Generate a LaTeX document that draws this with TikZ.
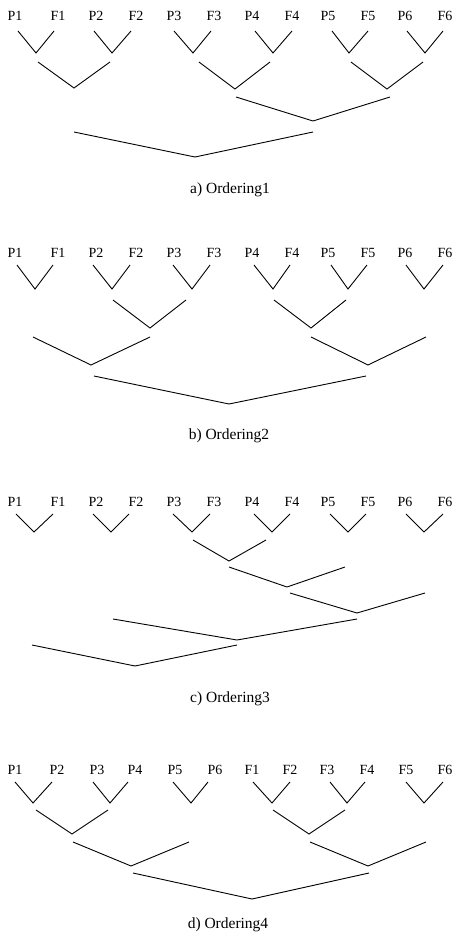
\documentclass[tikz,border=0pt]{standalone}
\usepackage{fontspec}
\setmainfont{Liberation Serif}
\tikzset{
  link/.style={line width=0.9pt, line join=miter},
  lab/.style={font=\fontsize{14}{14}\selectfont, inner sep=0pt},
  capt/.style={font=\fontsize{15.5}{16}\selectfont, inner sep=0pt}
}
\begin{document}
\begin{tikzpicture}[x=1pt,y=-1pt]
\useasboundingbox (0,0) rectangle (453,943);
% ---------- a) Ordering1 ----------
\foreach \n/\x in {P1/15,F1/58,P2/96,F2/136,P3/174,F3/214,P4/252,F4/292,P5/328,F5/368,P6/405,F6/445}
  \node[lab] (a\n) at (\x,16) {\n};
\foreach \l/\v/\r in {18/36/54,94/112/131,174/193/211,255/273/292,332/349/368,407/425/443}
  \draw[link] (\l,31) -- (\v,53) -- (\r,31);
\draw[link] (38,62) -- (74,88) -- (110,62);
\draw[link] (199,62) -- (235,89) -- (270,62);
\draw[link] (351,62) -- (387,89) -- (423,62);
\draw[link] (236,97) -- (313,121) -- (390,97);
\draw[link] (74,132) -- (195,157) -- (313,132);
\node[capt] (capa) at (230,190) {a) Ordering1};
% ---------- b) Ordering2 ----------
\foreach \n/\x in {P1/15,F1/58,P2/96,F2/136,P3/174,F3/214,P4/252,F4/292,P5/328,F5/368,P6/405,F6/445}
  \node[lab] (b\n) at (\x,253) {\n};
\foreach \l/\v/\r in {17/35/53,93/112/130,173/192/210,254/273/290,331/348/367,406/424/443}
  \draw[link] (\l,265) -- (\v,289) -- (\r,265);
\draw[link] (113,300) -- (150,328) -- (186,300);
\draw[link] (274,300) -- (311,328) -- (346,300);
\draw[link] (33,337) -- (91,365) -- (150,337);
\draw[link] (311,337) -- (368,365) -- (426,337);
\draw[link] (94,376) -- (229,404) -- (366,376);
\node[capt] (capb) at (229,436) {b) Ordering2};
% ---------- c) Ordering3 ----------
\foreach \n/\x in {P1/15,F1/58,P2/96,F2/136,P3/174,F3/214,P4/252,F4/292,P5/328,F5/368,P6/405,F6/445}
  \node[lab] (c\n) at (\x,502) {\n};
\foreach \l/\v/\r in {16/34/53,93/111/129,173/192/210,254/272/290,330/348/366,406/424/443}
  \draw[link] (\l,514) -- (\v,532) -- (\r,514);
\draw[link] (193,540) -- (229,561) -- (266,540);
\draw[link] (229,567) -- (287,587) -- (345,567);
\draw[link] (290,593) -- (357,613) -- (425,593);
\draw[link] (113,619) -- (237,640) -- (357,619);
\draw[link] (32,645) -- (135,666) -- (237,645);
\node[capt] (capc) at (230,699) {c) Ordering3};
% ---------- d) Ordering4 ----------
\foreach \n/\x in {P1/15,P2/57,P3/97,P4/135,P5/175,P6/215,F1/252,F2/290,F3/327,F4/367,F5/406,F6/445}
  \node[lab] (d\n) at (\x,770) {\n};
\foreach \l/\v/\r in {15/33/52,93/110/128,173/191/208,253/272/290,330/347/365,406/424/443}
  \draw[link] (\l,782) -- (\v,803) -- (\r,782);
\draw[link] (36,810) -- (72,834) -- (108,810);
\draw[link] (273,810) -- (309,834) -- (345,810);
\draw[link] (73,842) -- (131,866) -- (189,842);
\draw[link] (310,842) -- (368,866) -- (426,842);
\draw[link] (133,873) -- (252,899) -- (369,873);
\node[capt] (capd) at (228,925) {d) Ordering4};
\end{tikzpicture}
\end{document}
